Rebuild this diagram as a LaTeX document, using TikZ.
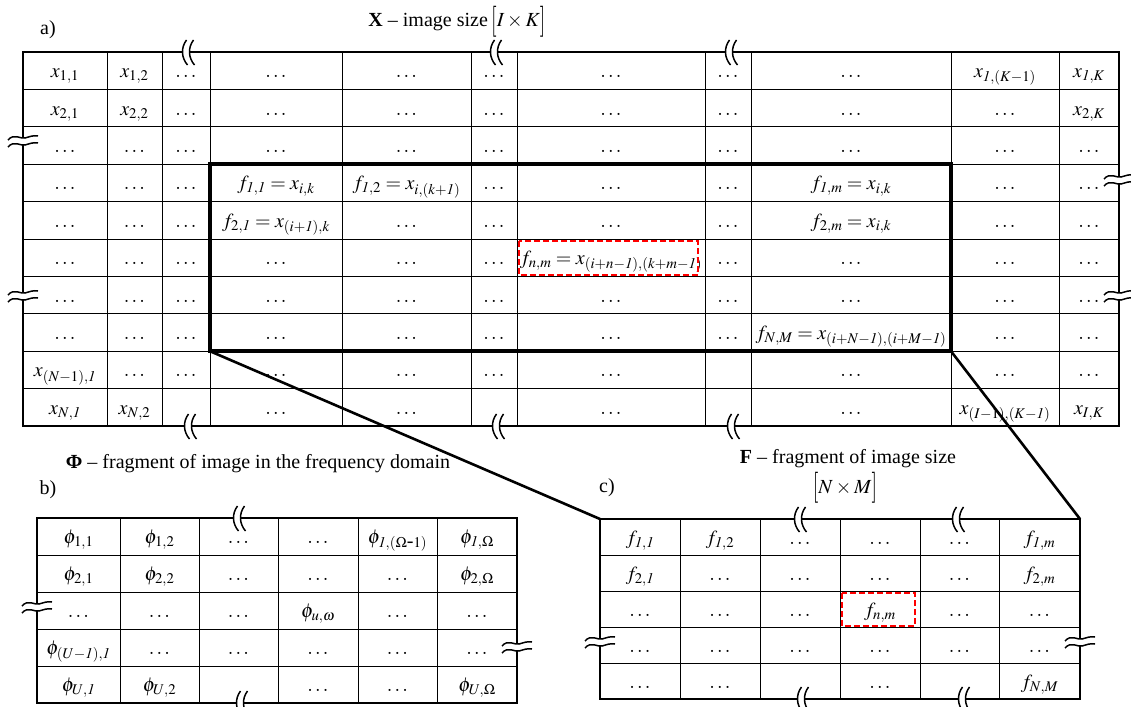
\documentclass[tikz,border=0pt]{standalone}
\usepackage{mathptmx}
\usepackage[no-math]{fontspec}
\setmainfont{Liberation Serif}
\newcommand\dd{$\ldots$}
\newcommand\tallbr[1]{\vcenter{\hbox{\scalebox{1}[1.55]{$#1$}}}}
\newcommand\Xrow[2]{\foreach \ci/\ct in {#2}{%
  \pgfmathsetmacro\xx{{65,134.5,186,276,406.5,494,611,728,851,1005,1089}[\ci-1]}%
  \pgfmathsetmacro\yy{52+37.4*(#1-0.5)+7}%
  \node[cellt] (X-#1-\ci) at (\xx,\yy) {\ct};}}
\newcommand\Prow[2]{\foreach \ci/\ct in {#2}{%
  \pgfmathsetmacro\xx{{78.5,159.5,238.5,318,397.5,477}[\ci-1]}%
  \pgfmathsetmacro\yy{518+37*(#1-0.5)+7}%
  \node[cellt] (P-#1-\ci) at (\xx,\yy) {\ct};}}
\newcommand\Frow[2]{\foreach \ci/\ct in {#2}{%
  \pgfmathsetmacro\xx{{640,720,800,880,959.5,1039.5}[\ci-1]}%
  \pgfmathsetmacro\yy{519+36*(#1-0.5)+7}%
  \node[cellt] (F-#1-\ci) at (\xx,\yy) {\ct};}}
\begin{document}
\begin{tikzpicture}[x=1pt,y=-1pt,
  every node/.style={font=\fontsize{20}{24}\selectfont},
  cellt/.style={inner sep=0pt,anchor=base,font=\fontsize{20}{24}\selectfont},
  gridl/.style={line width=0.9pt},
  xborder/.style={line width=1.3pt},
  outerb/.style={line width=2.6pt},
  fragb/.style={line width=3.6pt},
  conn/.style={line width=2.6pt},
  redbox/.style={draw=red,line width=2.2pt,dash pattern=on 6pt off 3pt},
  vbrk/.pic={
    \fill[white] (-3.5,-2.8) rectangle (3.5,2.8);
    \draw[line width=1.5pt] (0.5,-12) .. controls (-5.5,-4) and (-4.5,6) .. (1.5,13);
    \draw[line width=1.5pt] (7.5,-12) .. controls (1.5,-4) and (2.5,6) .. (8.5,13);
  },
  hbrk/.pic={
    \fill[white] (-2.8,-3) rectangle (2.8,4);
    \draw[line width=1.5pt] (-15,-1) .. controls (-9,-8) and (-3,-2) .. (2,-3) .. controls (6,-4) and (10,-6) .. (15,-5);
    \draw[line width=1.5pt] (-15,6) .. controls (-9,-1) and (-3,5) .. (2,4) .. controls (6,3) and (10,1) .. (15,2);
  }]
\useasboundingbox (0,0) rectangle (1131,706);

% ---------- Table X ----------
\foreach \i in {1,...,9} \draw[gridl] (23,{52+37.4*\i}) -- (1119,{52+37.4*\i});
\foreach \x in {107,162,210,342,471,517,705,751,951,1059} \draw[gridl] (\x,52) -- (\x,426);
\draw[xborder] (23,52) rectangle (1119,426);

\Xrow{1}{1/{$x_{1,1}$},2/{$x_{1,2}$},3/\dd,4/\dd,5/\dd,6/\dd,7/\dd,8/\dd,9/\dd,10/{$x_{\mathit{1},(K-1)}$},11/{$x_{\mathit{1},K}$}}
\Xrow{2}{1/{$x_{2,1}$},2/{$x_{2,2}$},3/\dd,4/\dd,5/\dd,6/\dd,7/\dd,8/\dd,9/\dd,10/\dd,11/{$x_{2,K}$}}
\Xrow{3}{1/\dd,2/\dd,3/\dd,4/\dd,5/\dd,6/\dd,7/\dd,8/\dd,9/\dd,10/\dd,11/\dd}
\Xrow{4}{1/\dd,2/\dd,3/\dd,4/{$f_{\mathit{1},\mathit{1}}=x_{i,k}$},5/{$f_{\mathit{1},2}=x_{i,(k+\mathit{1})}$},6/\dd,7/\dd,8/\dd,9/{$f_{\mathit{1},m}=x_{i,k}$},10/\dd,11/\dd}
\Xrow{5}{1/\dd,2/\dd,3/\dd,4/{$f_{2,\mathit{1}}=x_{(i+\mathit{1}),k}$},5/\dd,6/\dd,7/\dd,8/\dd,9/{$f_{2,m}=x_{i,k}$},10/\dd,11/\dd}
\Xrow{6}{1/\dd,2/\dd,3/\dd,4/\dd,5/\dd,6/\dd,7/{$f_{n,m}=x_{(i+n-\mathit{1}),(k+m-\mathit{1})}$},8/\dd,9/\dd,10/\dd,11/\dd}
\Xrow{7}{1/\dd,2/\dd,3/\dd,4/\dd,5/\dd,6/\dd,7/\dd,8/\dd,9/\dd,10/\dd,11/\dd}
\Xrow{8}{1/\dd,2/\dd,3/\dd,4/\dd,5/\dd,6/\dd,7/\dd,8/\dd,9/{$f_{N,M}=x_{(i+N-\mathit{1}),(i+M-\mathit{1})}$},10/\dd,11/\dd}
\Xrow{9}{1/{$x_{(N-1),\mathit{1}}$},2/\dd,3/\dd,4/\dd,5/\dd,6/\dd,7/\dd,9/\dd,10/\dd,11/\dd}
\Xrow{10}{1/{$x_{N,\mathit{1}}$},2/{$x_{N,2}$},4/\dd,5/\dd,7/\dd,9/\dd,10/{$x_{(I-1),(K-\mathit{1})}$},11/{$x_{I,K}$}}

\draw[redbox] (519,241) rectangle (698,275);
\coordinate (fTL) at (210,{52+37.4*3});
\coordinate (fBL) at (210,{52+37.4*8});
\coordinate (fBR) at (951,{52+37.4*8});
\draw[fragb] (fTL) rectangle (fBR);

% breaks on X
\pic at (186,52) {vbrk}; \pic at (494,52) {vbrk}; \pic at (729,52) {vbrk};
\pic at (188,426) {vbrk}; \pic at (496,426) {vbrk}; \pic at (731,426) {vbrk};
\pic at (23,141) {hbrk}; \pic at (23,296) {hbrk};
\pic at (1119,180) {hbrk}; \pic at (1119,296) {hbrk};

% ---------- Table Phi ----------
\foreach \i in {1,...,4} \draw[gridl] (37,{518+37*\i}) -- (517,{518+37*\i});
\foreach \x in {120,199,278,358,437} \draw[gridl] (\x,518) -- (\x,703);
\draw[outerb] (37,518) rectangle (517,703);
\Prow{1}{1/{$\phi_{1,1}$},2/{$\phi_{1,2}$},3/\dd,4/\dd,5/{$\phi_{\mathit{1},(\Omega\mbox{-}1)}$},6/{$\phi_{\mathit{1},\Omega}$}}
\Prow{2}{1/{$\phi_{2,1}$},2/{$\phi_{2,2}$},3/\dd,4/\dd,5/\dd,6/{$\phi_{2,\Omega}$}}
\Prow{3}{1/\dd,2/\dd,3/\dd,4/{$\phi_{u,\omega}$},5/\dd,6/\dd}
\Prow{4}{1/{$\phi_{(U-\mathit{1}),\mathit{1}}$},2/\dd,3/\dd,4/\dd,5/\dd,6/\dd}
\Prow{5}{1/{$\phi_{U,\mathit{1}}$},2/{$\phi_{U,2}$},4/\dd,5/\dd,6/{$\phi_{U,\Omega}$}}
\pic at (237,518) {vbrk}; \pic at (240,703) {vbrk};
\pic at (37,607) {hbrk}; \pic at (517,647) {hbrk};

% ---------- Table F ----------
\foreach \i in {1,...,4} \draw[gridl] (600,{519+36*\i}) -- (1080,{519+36*\i});
\foreach \x in {680,760,840,920,999} \draw[gridl] (\x,519) -- (\x,699);
\coordinate (FTL) at (600,519);
\coordinate (FTR) at (1080,519);
\draw[outerb] (FTL) rectangle (1080,699);
\Frow{1}{1/{$f_{\mathit{1},\mathit{1}}$},2/{$f_{\mathit{1},2}$},3/\dd,4/\dd,5/\dd,6/{$f_{\mathit{1},m}$}}
\Frow{2}{1/{$f_{2,\mathit{1}}$},2/\dd,3/\dd,4/\dd,5/\dd,6/{$f_{2,m}$}}
\Frow{3}{1/\dd,2/\dd,3/\dd,4/{$f_{n,m}$},5/\dd,6/\dd}
\Frow{4}{1/\dd,2/\dd,3/\dd,4/\dd,5/\dd,6/\dd}
\Frow{5}{1/\dd,2/\dd,4/\dd,6/{$f_{N,M}$}}
\draw[redbox] (842,593) rectangle (915,626);
\pic at (798,519) {vbrk}; \pic at (956,519) {vbrk};
\pic at (801,699) {vbrk}; \pic at (962,699) {vbrk};
\pic at (600,642) {hbrk}; \pic at (1080,642) {hbrk};

% connectors
\draw[conn] (fBL) -- (FTL);
\draw[conn] (fBR) -- (FTR);

% titles
\node (ta) at (48,30) {a)};
\node (tX) at (457,22) {\textbf{X} -- image size\,$\tallbr{[}I\times K\tallbr{]}$};
\node (tP) at (258,464) {\textbf{Φ} -- fragment of image in the frequency domain};
\node (tb) at (48,490) {b)};
\node (tF) at (848,459) {\textbf{F} -- fragment of image size};
\node (tNM) at (845,488) {$\tallbr{[}N\times M\tallbr{]}$};
\node (tc) at (607,488) {c)};
\end{tikzpicture}
\end{document}
